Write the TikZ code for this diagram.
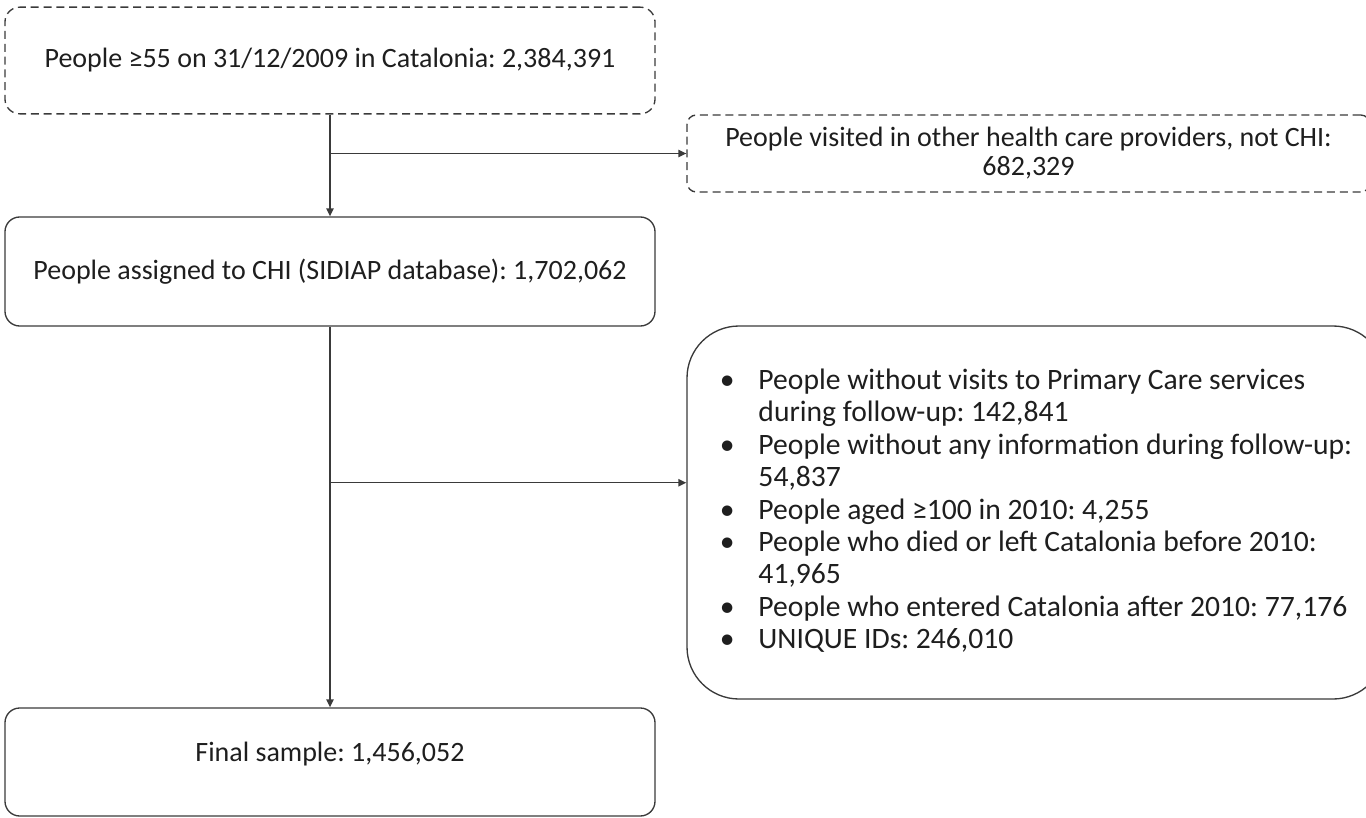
\documentclass[tikz,border=0pt]{standalone}
\usepackage{fontspec}
\setmainfont{Carlito}
\usepackage{tikz}
\usetikzlibrary{arrows.meta,positioning,calc}
\definecolor{linegray}{RGB}{58, 58, 58}
\definecolor{textblack}{RGB}{30, 30, 30}
\frenchspacing

\begin{document}
\begin{tikzpicture}[
  x=0.75pt, y=-0.75pt,
  mainbox/.style={rectangle, draw=linegray, rounded corners=11pt, line width=1pt, minimum width=487.5pt, align=center, font=\fontsize{21}{21.75}\selectfont, text=textblack},
  dashbox/.style={mainbox, dash pattern=on 6pt off 3.6pt},
  listbox/.style={mainbox, rounded corners=39pt, minimum width=523.5pt, minimum height=279.75pt, font=\fontsize{22.2}{21.75}\selectfont},
  flow/.style={-{Triangle[length=6pt,width=5.5pt]}, line width=1pt, color=linegray}
]
\useasboundingbox (0,0) rectangle (1366,817);

\node[dashbox, minimum height=80pt] (start) at (330,60.5) {People ≥55 on 31/12/2009 in Catalonia: 2,384,391};
\node[mainbox, minimum height=81.75pt] (chi) at (330,271.5) {People assigned to CHI (SIDIAP database): 1,702,062};
\node[mainbox, minimum height=81pt] (final) at (330,762) {\raisebox{15pt}{Final sample: 1,456,052}};

\node[dashbox, rounded corners=7pt, minimum width=512.25pt, minimum height=57.75pt] (other) at (1028.5,153.5) {People visited in other health care providers, not CHI:\\682,329};
\node[listbox] (excl) at (1036,512.5) {%
  \def\arraystretch{1.12}%
  \begin{tabular}{@{}l@{\hspace{18pt}}l@{}}
  \textbullet & People without visits to Primary Care services\\
              & during follow-up: 142,841\\
  \textbullet & People without any information during follow-up:\\
              & 54,837\\
  \textbullet & People aged ≥100 in 2010: 4,255\\
  \textbullet & People who died or left Catalonia before 2010:\\
              & 41,965\\
  \textbullet & People who entered Catalonia after 2010: 77,176\\
  \textbullet & UNIQUE IDs: 246,010
  \end{tabular}};

% junctions on the main line
\coordinate (j1) at (start.south |- other.west);
\coordinate (j2) at ($(chi.south)!0.41!(final.north)$);

\draw[flow] (start) -- (chi);
\draw[flow] (j1) -- (other.west);
\draw[flow] (chi) -- (final);
\draw[flow] (j2) -- (j2 -| excl.west);
\end{tikzpicture}
\end{document}
